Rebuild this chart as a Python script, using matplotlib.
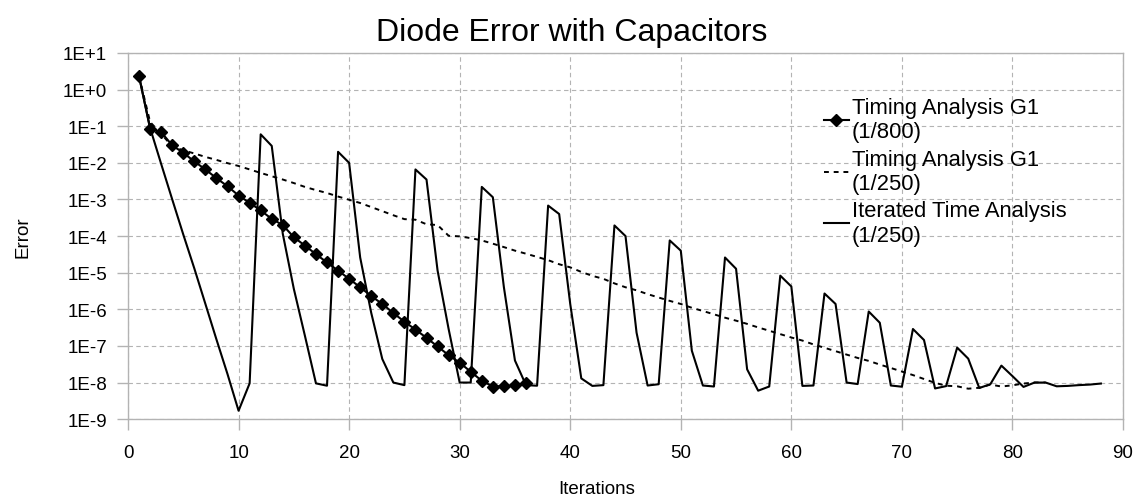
import math

import matplotlib
matplotlib.use("Agg")
import matplotlib.pyplot as plt
from matplotlib.ticker import FixedLocator, FuncFormatter

plt.rcParams["font.family"] = ["Liberation Sans", "DejaVu Sans"]

# Timing Analysis G1 (1/800), iterations 1..36
g1_800_x = list(range(1, 37))
g1_800_err = [
    2.3, 0.085, 0.069, 0.030, 0.0188, 0.0109, 6.6e-3, 3.8e-3, 2.3e-3, 1.28e-3,
    8.1e-4, 5.0e-4, 2.95e-4, 2.0e-4, 9.3e-5, 5.5e-5, 3.2e-5, 1.9e-5, 1.14e-5, 6.8e-6,
    4.0e-6, 2.3e-6, 1.4e-6, 7.9e-7, 4.6e-7, 2.8e-7, 1.66e-7, 9.7e-8, 5.6e-8, 3.5e-8,
    1.97e-8, 1.12e-8, 7.8e-9, 7.9e-9, 8.4e-9, 9.8e-9,
]

# Timing Analysis G1 (1/250), iterations 1..83
g1_250_x = list(range(1, 84))
g1_250_err = [
    2.3, 0.13, 0.062, 0.028, 0.022, 0.018, 0.0145, 0.012, 0.0098, 0.0082,
    0.0066, 0.0053, 0.0043, 0.0035, 0.0028, 0.0022, 0.0018, 0.0015, 0.0012, 9.8e-4,
    8.0e-4, 6.2e-4, 4.8e-4, 3.7e-4, 2.9e-4, 2.8e-4, 2.1e-4, 2.0e-4, 1.02e-4, 9.8e-5,
    8.8e-5, 7.6e-5, 6.2e-5, 5.0e-5, 4.0e-5, 3.3e-5, 2.7e-5, 2.2e-5, 1.7e-5, 1.4e-5,
    1.05e-5, 8.2e-6, 6.8e-6, 5.1e-6, 4.0e-6, 3.3e-6, 2.6e-6, 2.1e-6, 1.7e-6, 1.4e-6,
    1.1e-6, 9.0e-7, 7.3e-7, 5.9e-7, 4.9e-7, 4.0e-7, 3.2e-7, 2.6e-7, 2.1e-7, 1.7e-7,
    1.4e-7, 1.1e-7, 8.9e-8, 7.2e-8, 5.8e-8, 4.7e-8, 3.9e-8, 3.1e-8, 2.5e-8, 2.0e-8,
    1.6e-8, 1.25e-8, 9.8e-9, 8.2e-9, 7.9e-9, 6.8e-9, 7.2e-9, 8.8e-9, 7.8e-9, 8.4e-9,
    9.4e-9, 1.0e-8, 1.0e-8,
]

# Iterated Time Analysis (1/250), iterations 1..88
ita_x = list(range(1, 89))
ita_err = [
    2.3, 0.089, 9.3e-3, 1.0e-3, 1.1e-4, 1.3e-5, 1.4e-6, 1.5e-7, 1.7e-8, 1.7e-9,
    9.5e-9, 0.060, 0.029, 1.15e-4, 3.6e-6, 1.9e-7, 9.5e-9, 8.2e-9, 0.020, 0.010,
    2.6e-5, 8.0e-7, 4.4e-8, 1.0e-8, 8.5e-9, 6.6e-3, 3.5e-3, 1.15e-5, 2.9e-7, 1.0e-8,
    1.0e-8, 2.2e-3, 1.15e-3, 4.0e-6, 4.0e-8, 8.5e-9, 8.2e-9, 6.8e-4, 4.0e-4, 1.4e-6,
    1.3e-8, 8.1e-9, 8.5e-9, 1.95e-4, 1.0e-4, 2.3e-7, 8.3e-9, 9.0e-9, 7.6e-5, 4.0e-5,
    7.4e-8, 8.3e-9, 7.8e-9, 2.6e-5, 1.28e-5, 2.3e-8, 6.0e-9, 7.8e-9, 8.3e-6, 4.2e-6,
    8.1e-9, 8.3e-9, 2.7e-6, 1.4e-6, 1.0e-8, 9.1e-9, 8.7e-7, 4.3e-7, 8.3e-9, 7.7e-9,
    2.9e-7, 1.45e-7, 6.9e-9, 8.0e-9, 9.0e-8, 4.5e-8, 7.1e-9, 9.0e-9, 2.9e-8, 1.5e-8,
    7.6e-9, 1.0e-8, 1.0e-8, 7.9e-9, 8.1e-9, 8.5e-9, 8.8e-9, 9.4e-9,
]

y_exponents = list(range(-9, 2))
x_ticks = list(range(0, 100, 10))


def sci_label(v, pos):
    e = int(round(math.log10(v)))
    return f"1E{e:+d}"


fig = plt.figure(figsize=(11.43, 5.02), dpi=100)
ax = fig.add_axes([0.112, 0.163, 0.8705, 0.7295])

ax.plot(g1_800_x, g1_800_err, color="black", lw=1.5, marker="D", ms=6.5,
        label="Timing Analysis G1\n(1/800)", zorder=4)
ax.plot(g1_250_x, g1_250_err, color="black", lw=1.4, ls=(0, (2.5, 2.5)),
        label="Timing Analysis G1\n(1/250)", zorder=3)
ax.plot(ita_x, ita_err, color="black", lw=1.5,
        label="Iterated Time Analysis\n(1/250)", zorder=3)

ax.set_yscale("log")
ax.set_ylim(1e-9, 1e1)
ax.set_xlim(0, 90)
ax.yaxis.set_major_locator(FixedLocator([10.0 ** e for e in y_exponents]))
ax.yaxis.set_minor_locator(FixedLocator([]))
ax.yaxis.set_major_formatter(FuncFormatter(sci_label))
ax.xaxis.set_major_locator(FixedLocator(x_ticks))

ax.grid(True, color="#b3b3b3", ls=(0, (4, 3)), lw=0.8)
ax.set_axisbelow(True)
for s in ax.spines.values():
    s.set_color("#b3b3b3")
    s.set_linewidth(1.0)
ax.tick_params(axis="both", colors="#b3b3b3", labelcolor="black",
               labelsize=13.5, length=8, width=1.0, direction="out", pad=7)
ax.tick_params(axis="x", pad=10)

fig.text(0.5, 0.935, "Diode Error with Capacitors", ha="center", va="center",
         fontsize=23)
fig.text(0.522, 0.025, "Iterations", ha="center", va="center", fontsize=13.5)
fig.text(0.02, 0.528, "Error", ha="center", va="center", rotation=90,
         fontsize=13.5)

ax.legend(loc="upper left", bbox_to_anchor=(0.688, 0.91), frameon=False,
          fontsize=15.8, handlelength=1.15, handletextpad=0.15,
          labelspacing=0.3, borderpad=0.0)

fig.savefig("out.png", dpi=100)
